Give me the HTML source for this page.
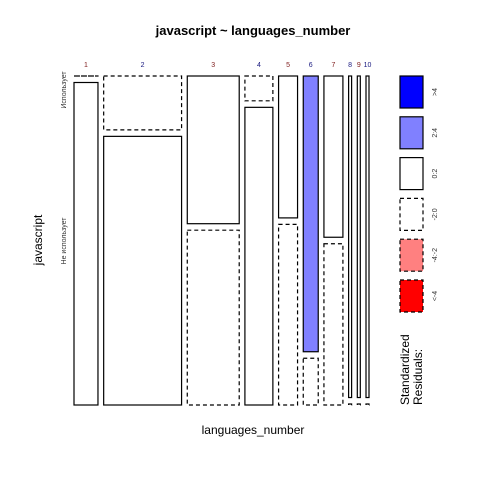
<!DOCTYPE html>
<html><head><meta charset="utf-8"><style>
body{margin:0;background:#fff}
svg{display:block;font-family:"Liberation Sans",sans-serif}
</style></head><body>
<svg id="c" width="480" height="480" viewBox="0 0 480 480">
<rect width="480" height="480" fill="#fff"/>
<text x="253" y="35" text-anchor="middle" font-size="13" font-weight="bold">javascript ~ languages_number</text>
<text x="253" y="434" text-anchor="middle" font-size="12">languages_number</text>
<text transform="translate(42,240) rotate(-90)" text-anchor="middle" font-size="12">javascript</text>
<text transform="translate(66,90) rotate(-90)" text-anchor="middle" font-size="7" fill="#333">Использует</text>
<text transform="translate(66,241) rotate(-90)" text-anchor="middle" font-size="7" fill="#333">Не использует</text>
<g id="marks"></g>
<g id="legend"></g>
<text transform="translate(409,405) rotate(-90)" font-size="12">Standardized</text>
<text transform="translate(422,405) rotate(-90)" font-size="12">Residuals:</text>
</svg>
<script>
const categories = ["1","2","3","4","5","6","7","8","9","10"];
const colCounts = [24,78,52,28,19,15,19,3,3,3];
const useFrac = [0,0.167,0.458,0.077,0.44,0.855,0.5,0.997,0.997,0.997];
const useResid = [-1,-1,1,-1,1,2,1,1,1,1];
const notResid = [1,1,-1,1,-1,-1,-1,-1,-1,-1];
const legendLabels = [">4","2:4","0:2","-2:0","-4:-2","<-4"];
const legendFills = ["#0000ff","#8080ff","#ffffff","#ffffff","#ff8080","#ff0000"];
const legendDash = [false,false,false,true,true,true];

const NS="http://www.w3.org/2000/svg";
const g=document.getElementById('marks');
const x0=74, x1=369, y0=76, y1=405, gap=5.7, vgap=6.5;
const total=colCounts.reduce((a,b)=>a+b,0);
const wAvail=(x1-x0)-gap*(categories.length-1);
const hAvail=(y1-y0)-vgap;
function fillFor(r){return r>=2?"#8080ff":"#ffffff";}
function mk(tag,attrs){const e=document.createElementNS(NS,tag);for(const k in attrs)e.setAttribute(k,attrs[k]);return e;}
let x=x0;
categories.forEach((c,i)=>{
  const w=colCounts[i]/total*wAvail;
  const t=mk('text',{x:x+w/2,y:67,'text-anchor':'middle','font-size':'7',fill:i%2?'#1a1a80':'#802020'});
  t.textContent=c;
  
  
  g.appendChild(t);
  const hTop=useFrac[i]*hAvail;
  const hBot=hAvail-hTop;
  const r1=mk('rect',{x:x,y:y0,width:w,height:Math.max(hTop,0.01),fill:fillFor(useResid[i]),stroke:'#000','stroke-width':'1.2'});
  if(useResid[i]<0)r1.setAttribute('stroke-dasharray','4,3');
  
  
  g.appendChild(r1);
  const yb=y0+hTop+vgap;
  const r2=mk('rect',{x:x,y:yb,width:w,height:Math.max(hBot,0.01),fill:fillFor(notResid[i]),stroke:'#000','stroke-width':'1.2'});
  if(notResid[i]<0)r2.setAttribute('stroke-dasharray','4,3');
  
  
  g.appendChild(r2);
  x+=w+gap;
});
const lg=document.getElementById('legend');
legendLabels.forEach((l,i)=>{
  const y=76+i*40.8;
  const r=mk('rect',{x:400,y:y,width:23,height:32,fill:legendFills[i],stroke:'#000','stroke-width':'1.2'});
  if(legendDash[i])r.setAttribute('stroke-dasharray','4,3');
  
  
  lg.appendChild(r);
  const t=mk('text',{transform:`translate(437,${y+16}) rotate(-90)`,'text-anchor':'middle','font-size':'7',fill:'#333'});
  t.textContent=l;
  
  
  lg.appendChild(t);
});
</script>
</body></html>
